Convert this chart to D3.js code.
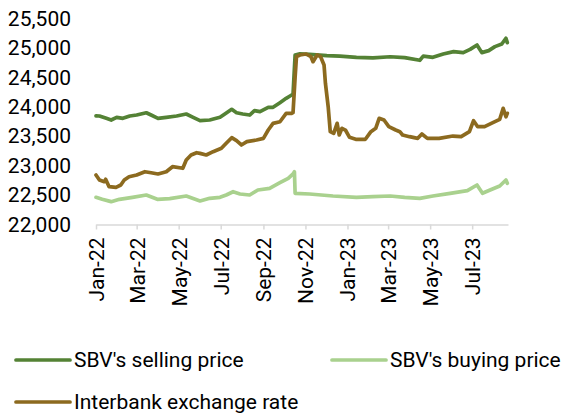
<!DOCTYPE html>
<html>
<head>
<meta charset="utf-8">
<script src="https://cdn.jsdelivr.net/npm/d3@7"></script>
<style>
  html, body { margin: 0; padding: 0; background: #fff; }
  svg { display: block; }
  text { font-family: Roboto, "Liberation Sans", sans-serif; fill: #000; }
</style>
</head>
<body>
<svg id="chart" width="564" height="414"></svg>
<script>
// ---------- data ----------
const yTicks = [22000, 22500, 23000, 23500, 24000, 24500, 25000, 25500];
const xTickDates = ["2022-01-01","2022-03-01","2022-05-01","2022-07-01","2022-09-01","2022-11-01",
                    "2023-01-01","2023-03-01","2023-05-01","2023-07-01"];
const seriesNames = ["SBV's selling price", "SBV's buying price", "Interbank exchange rate"];

const sellDates = ["2022-01-01","2022-01-06","2022-01-16","2022-01-23","2022-01-31","2022-02-09","2022-02-19",
  "2022-03-01","2022-03-15","2022-03-22","2022-04-01","2022-04-13","2022-04-28","2022-05-12","2022-05-22",
  "2022-06-01","2022-06-15","2022-06-30","2022-07-07","2022-07-17","2022-07-24","2022-08-02","2022-08-12",
  "2022-08-19","2022-08-27","2022-09-08","2022-09-15","2022-09-25","2022-10-04","2022-10-12","2022-10-14",
  "2022-10-17","2022-10-24","2022-11-07","2022-12-02","2022-12-21","2023-01-14","2023-02-07","2023-03-04",
  "2023-03-25","2023-04-16","2023-04-21","2023-05-05","2023-05-20","2023-06-04","2023-06-18","2023-06-28",
  "2023-07-08","2023-07-15","2023-07-25","2023-08-03","2023-08-13","2023-08-19","2023-08-21"];
const sellValues = [23845,23843,23804,23775,23821,23804,23843,
  23860,23899,23860,23804,23821,23843,23877,23821,
  23764,23775,23821,23877,23957,23899,23877,23860,
  23934,23917,23991,23991,24070,24144,24200,24210,
  24880,24900,24890,24870,24860,24840,24830,24850,
  24835,24790,24860,24840,24897,24937,24920,24976,
  25050,24920,24954,25022,25067,25164,25090];

const buyDates = ["2022-01-01","2022-01-10","2022-01-23","2022-02-04","2022-02-23","2022-03-15","2022-03-31",
  "2022-04-18","2022-05-12","2022-06-01","2022-06-15","2022-06-30","2022-07-09","2022-07-19","2022-07-29",
  "2022-08-12","2022-08-24","2022-09-10","2022-09-25","2022-10-07","2022-10-14","2022-10-16","2022-10-17",
  "2022-11-07","2022-12-11","2023-01-14","2023-02-07","2023-03-04","2023-03-25","2023-04-16","2023-05-05",
  "2023-05-30","2023-06-24","2023-07-08","2023-07-16","2023-07-27","2023-08-10","2023-08-19","2023-08-21"];
const buyValues = [22462,22428,22388,22428,22462,22501,22428,
  22439,22484,22400,22445,22462,22501,22557,22518,
  22501,22586,22615,22710,22785,22860,22897,22530,
  22518,22484,22462,22472,22484,22462,22445,22484,
  22530,22575,22671,22530,22586,22654,22756,22700];

const ibDates = ["2022-01-01","2022-01-06","2022-01-13","2022-01-15","2022-01-20","2022-01-30","2022-02-06",
  "2022-02-11","2022-02-18","2022-03-01","2022-03-13","2022-03-22","2022-04-01","2022-04-13","2022-04-22",
  "2022-05-07","2022-05-12","2022-05-19","2022-05-27","2022-06-01","2022-06-10","2022-06-20","2022-07-02",
  "2022-07-09","2022-07-17","2022-07-24","2022-07-31","2022-08-08","2022-08-22","2022-09-01","2022-09-08",
  "2022-09-15","2022-09-25","2022-10-04","2022-10-12","2022-10-14","2022-10-17","2022-10-19","2022-10-24",
  "2022-11-02","2022-11-09","2022-11-12","2022-11-18","2022-11-23","2022-11-28","2022-11-30","2022-12-04",
  "2022-12-07","2022-12-12","2022-12-17","2022-12-20","2022-12-24","2022-12-29","2023-01-04","2023-01-13",
  "2023-01-27","2023-02-04","2023-02-11","2023-02-16","2023-02-23","2023-03-02","2023-03-12","2023-03-18",
  "2023-03-22","2023-04-01","2023-04-13","2023-04-19","2023-04-27","2023-05-14","2023-06-03","2023-06-15",
  "2023-06-27","2023-07-03","2023-07-09","2023-07-19","2023-07-31","2023-08-10","2023-08-15","2023-08-19",
  "2023-08-21"];
const ibValues = [22841,22756,22727,22768,22642,22632,22671,
  22756,22812,22841,22897,22880,22858,22897,22982,
  22955,23096,23181,23220,23209,23181,23237,23294,
  23379,23475,23424,23351,23407,23436,23464,23605,
  23719,23746,23889,23889,23900,24500,24851,24880,
  24897,24851,24766,24880,24851,24710,24399,24002,
  23577,23549,23719,23521,23634,23605,23481,23448,
  23448,23577,23634,23804,23775,23662,23605,23577,
  23521,23492,23464,23538,23464,23464,23503,23492,
  23577,23764,23662,23662,23730,23787,23974,23831,
  23889];

// ---------- layout ----------
const colors = ["#548235", "#A9D18E", "#8C6A1F"];
const FONT = 21;
const LW = 3.7;
const svg = d3.select("#chart");
const parse = d3.timeParse("%Y-%m-%d");
const fmtTick = d3.timeFormat("%b-%y");

const x = d3.scaleTime()
  .domain([parse("2022-01-01"), parse("2023-08-22")])
  .range([96, 508]);
const y = d3.scaleLinear().domain([22000, 25500]).range([224.5, 18.5]);

// y axis labels (no axis line)
const yAxis = d3.axisLeft(y).tickValues(yTicks).tickSize(0).tickPadding(0)
  .tickFormat(d3.format(","));
const gy = svg.append("g").attr("transform", "translate(71,0)").call(yAxis);
gy.select(".domain").remove();
gy.selectAll("text").attr("font-size", FONT).attr("font-family", "Roboto").attr("fill", "#000")
  .attr("dy", "0.32em");

// x axis
const xAxis = d3.axisBottom(x).tickValues(xTickDates.map(parse)).tickSize(5).tickSizeOuter(0)
  .tickFormat(fmtTick);
const gx = svg.append("g").attr("transform", `translate(0,${y(22000)})`).call(xAxis);
gx.select(".domain").attr("stroke", "#d9d9d9").attr("stroke-width", 1.5);
gx.selectAll(".tick line").attr("stroke", "#d9d9d9").attr("stroke-width", 1.5);
gx.selectAll("text")
  .attr("font-size", FONT).attr("font-family", "Roboto").attr("fill", "#000")
  .attr("transform", "rotate(-90)")
  .attr("text-anchor", "end")
  .attr("x", -13).attr("y", 0).attr("dy", "0.35em");

// lines
const line = d3.line().x(d => x(d.date)).y(d => y(d.value)).curve(d3.curveLinear);
const series = [
  sellDates.map((d, i) => ({ date: parse(d), value: sellValues[i] })),
  buyDates.map((d, i) => ({ date: parse(d), value: buyValues[i] })),
  ibDates.map((d, i) => ({ date: parse(d), value: ibValues[i] }))
];
series.forEach((s, i) => {
  svg.append("path").datum(s)
    .attr("fill", "none")
    .attr("stroke", colors[i])
    .attr("stroke-width", LW)
    .attr("stroke-linejoin", "round")
    .attr("stroke-linecap", "round")
    .attr("d", line);
});

// legend
const legendItems = [
  { name: seriesNames[0], color: colors[0], x: 16, y: 360 },
  { name: seriesNames[1], color: colors[1], x: 332, y: 360 },
  { name: seriesNames[2], color: colors[2], x: 16, y: 402 }
];
const lg = svg.append("g");
legendItems.forEach(it => {
  lg.append("line").attr("x1", it.x).attr("x2", it.x + 54).attr("y1", it.y).attr("y2", it.y)
    .attr("stroke", it.color).attr("stroke-width", LW).attr("stroke-linecap", "round");
  lg.append("text").attr("x", it.x + 58).attr("y", it.y).attr("dy", "0.35em")
    .attr("font-size", FONT).text(it.name);
});
</script>
</body>
</html>
